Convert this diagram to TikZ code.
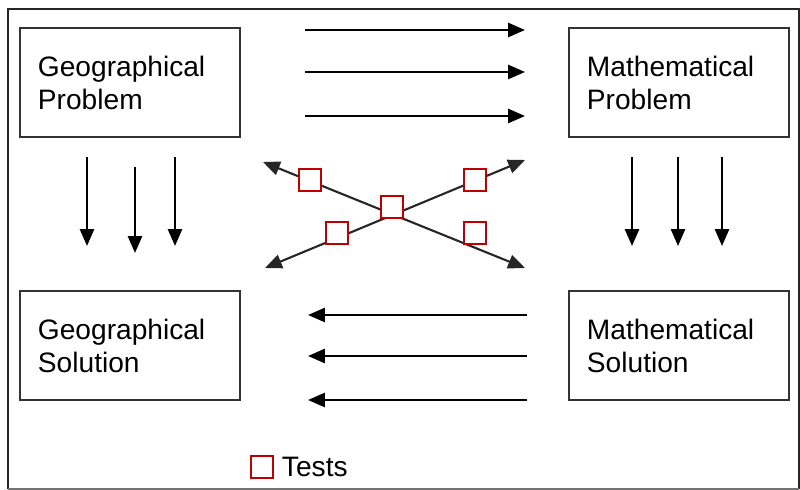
\documentclass[tikz,border=0pt]{standalone}
\usepackage{fontspec}
\setmainfont{Liberation Sans}
\usetikzlibrary{arrows.meta,positioning}

\begin{document}
\begin{tikzpicture}[
    x=0.025cm, y=-0.025cm,
    box/.style={rectangle, draw=black!80, line width=2pt, minimum width=5.5cm, minimum height=2.72cm,
                inner xsep=0.45cm, text width=4.6cm, align=left, font=\fontsize{20}{23.5}\selectfont},
    test/.style={rectangle, draw=red!75!black, line width=1.4pt, fill=white, minimum size=0.56cm, inner sep=0pt},
    flow/.style={-{Triangle[length=12pt,width=10pt]}, line width=1.6pt},
    both/.style={{Triangle[length=12pt,width=10pt]}-{Triangle[length=12pt,width=10pt]}, line width=1.5pt, black!85}
]
    \useasboundingbox (0,0) rectangle (800,490);
    \draw[line width=1.8pt, black!85] (8,489) -- (8,9) -- (799,9) -- (799,489);
    \draw[line width=1.2pt, black!55] (8,489) -- (799,489);

    \node[box] (geoprob) at (130,82.5) {Geographical\\Problem};
    \node[box] (mathprob) at (679,82.5) {Mathematical\\Problem};
    \node[box] (geosol) at (130,345.5) {Geographical\\Solution};
    \node[box] (mathsol) at (679,345.5) {Mathematical\\Solution};

    % translation arrows
    \foreach \y [count=\i] in {30,72,116} {
        \coordinate (tl\i) at (305,\y);
        \coordinate (tr\i) at (525,\y);
        \draw[flow] (tl\i) -- (tr\i);
    }
    \foreach \y [count=\i] in {315,356,400} {
        \coordinate (br\i) at (527,\y);
        \coordinate (bl\i) at (308,\y);
        \draw[flow] (br\i) -- (bl\i);
    }

    % solving arrows
    \foreach \x/\a/\b [count=\i] in {87/157/246,135/167/253,175/157/246} {
        \coordinate (ga\i) at (\x,\a);
        \coordinate (gb\i) at (\x,\b);
        \draw[flow] (ga\i) -- (gb\i);
    }
    \foreach \x [count=\i] in {632,678,722} {
        \coordinate (ma\i) at (\x,157);
        \coordinate (mb\i) at (\x,246);
        \draw[flow] (ma\i) -- (mb\i);
    }

    % crossing with tests
    \coordinate (xnw) at (263,162);
    \coordinate (xse) at (525,268);
    \coordinate (xsw) at (265,268);
    \coordinate (xne) at (525,160);
    \draw[both] (xnw) -- (xse);
    \draw[both] (xsw) -- (xne);

    \node[test] (t1) at (310,180) {};
    \node[test] (t2) at (475,180) {};
    \node[test] (t3) at (392,207) {};
    \node[test] (t4) at (337,233) {};
    \node[test] (t5) at (475,233) {};

    \node[test] (key) at (262,467) {};
    \node[right=2pt of key, font=\fontsize{20}{23.5}\selectfont] (keytext) {Tests};
\end{tikzpicture}
\end{document}
